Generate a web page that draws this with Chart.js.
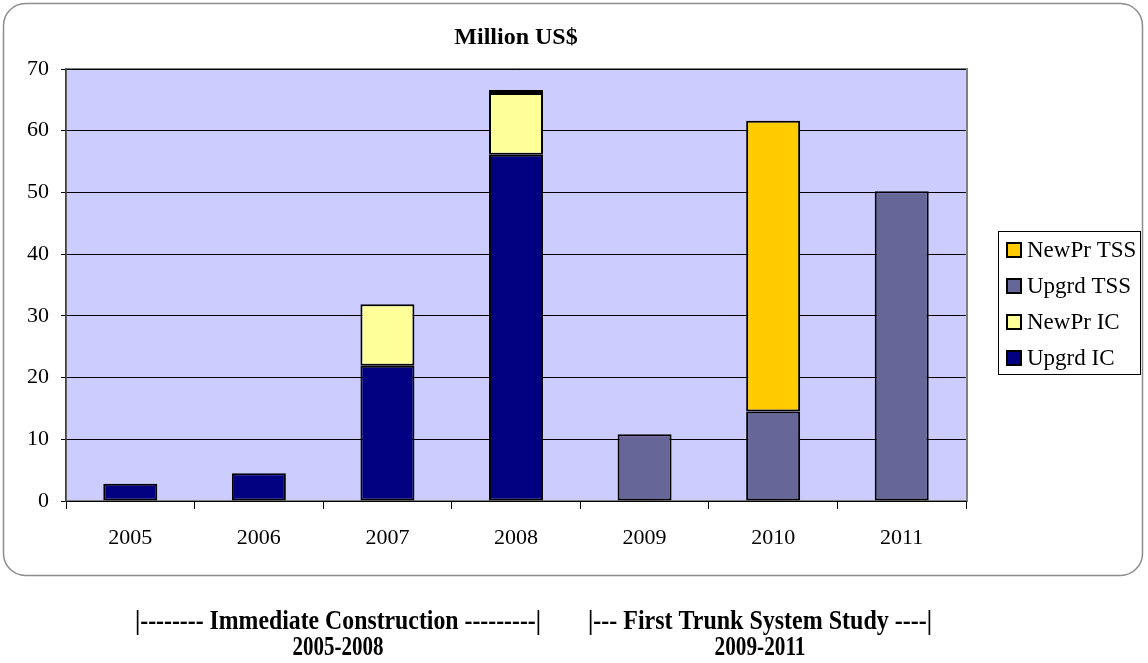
<!DOCTYPE html>
<html>
<head>
<meta charset="utf-8">
<script src="https://cdn.jsdelivr.net/npm/chart.js@4/dist/chart.umd.min.js"></script>
<style>
    html, body { margin: 0; padding: 0; background: #fff; }
    #wrap { width: 1148px; height: 663px; }
</style>
</head>
<body>
<div id="wrap"><canvas id="costChart" width="1148" height="663"></canvas></div>
<script>
const years = ['2005', '2006', '2007', '2008', '2009', '2010', '2011']
const upgrdIC = [2.8, 4.5, 21.9, 56.1, null, null, null]
const newPrIC = [null, null, 10.0, 10.0, null, null, null]
const upgrdTSS = [null, null, null, 0.5, 10.8, 14.5, 50.2]
const newPrTSS = [null, null, null, null, null, 47.1, null]
const yTicks = [0, 10, 20, 30, 40, 50, 60, 70]

const chartTitle = 'Million US$'
const periodLabels = [
    { line1: '|-------- Immediate Construction ---------|', line2: '2005-2008', x: 338, w: 406 },
    { line1: '|--- First Trunk System Study ----|', line2: '2009-2011', x: 760, w: 344 }
]

const serif = '"Liberation Serif", "Times New Roman", serif'

// background, rounded frame, plot area
const framePlugin = {
    id: 'framePlugin',
    beforeDraw(chart) {
        const ctx = chart.ctx
        const a = chart.chartArea
        ctx.save()
        ctx.fillStyle = '#fff'
        ctx.fillRect(0, 0, chart.width, chart.height)
        ctx.strokeStyle = '#8c8c8c'
        ctx.lineWidth = 1.5
        ctx.beginPath()
        ctx.roundRect(3.5, 3.5, 1139, 572, 22)
        ctx.stroke()
        ctx.fillStyle = '#CCCCFF'
        ctx.fillRect(a.left, a.top, a.right - a.left, a.bottom - a.top)
        ctx.strokeStyle = '#808080'
        ctx.lineWidth = 2
        ctx.strokeRect(a.left, a.top, a.right - a.left + 1, a.bottom - a.top)
        ctx.restore()
    },
    afterDraw(chart) {
        const ctx = chart.ctx
        const a = chart.chartArea
        ctx.save()
        ctx.fillStyle = '#000'
        ctx.textAlign = 'center'
        ctx.textBaseline = 'middle'

        // title
        ctx.font = 'bold 24px ' + serif
        ctx.fillText(chartTitle, (a.left + a.right) / 2, 38, 136)

        // period notes under the chart
        ctx.font = 'bold 27px ' + serif
        periodLabels.forEach(p => {
            ctx.fillText(p.line1, p.x, 622, p.w)
            ctx.fillText(p.line2, p.x, 648, 91)
        })

        // legend box
        const lx = 998, ly = 231, lw = 142, lh = 143
        ctx.strokeStyle = '#000'
        ctx.lineWidth = 1
        ctx.strokeRect(lx + 0.5, ly + 0.5, lw, lh)
        ctx.textAlign = 'left'
        ctx.font = '23px ' + serif
        const items = chart.data.datasets.slice().reverse()
        items.forEach((ds, i) => {
            const cy = 250 + i * 36
            ctx.fillStyle = ds.backgroundColor
            ctx.fillRect(1007, cy - 7, 14, 14)
            ctx.lineWidth = 2
            ctx.strokeRect(1007, cy - 7, 14, 14)
            ctx.fillStyle = '#000'
            ctx.fillText(ds.label, 1027, cy + 1, 111)
        })
        ctx.restore()
    }
}

const barStyle = {
    borderColor: '#000',
    borderWidth: 2,
    borderSkipped: false,
    barPercentage: 0.42,
    categoryPercentage: 1.0
}

const costChart = new Chart('costChart', {
    type: 'bar',
    data: {
        labels: years,
        datasets: [
            { label: 'Upgrd IC', data: upgrdIC, backgroundColor: '#000080', ...barStyle },
            { label: 'NewPr IC', data: newPrIC, backgroundColor: '#FFFF99', ...barStyle },
            { label: 'Upgrd TSS', data: upgrdTSS, backgroundColor: '#666699', ...barStyle },
            { label: 'NewPr TSS', data: newPrTSS, backgroundColor: '#FFCC00', ...barStyle }
        ]
    },
    options: {
        responsive: false,
        animation: false,
        layout: { padding: { left: 0, right: 182, top: 69, bottom: 112 } },
        plugins: {
            legend: { display: false },
            title: { display: false },
            tooltip: { enabled: false }
        },
        scales: {
            x: {
                stacked: true,
                grid: { offset: true, drawOnChartArea: false, color: '#000', tickLength: 8 },
                border: { color: '#000', width: 1 },
                ticks: { color: '#000', font: { family: serif, size: 22 }, padding: 16 },
                afterFit: scale => { scale.height = 50 }
            },
            y: {
                stacked: true,
                min: 0,
                max: 70,
                afterBuildTicks: scale => { scale.ticks = yTicks.map(v => ({ value: v })) },
                grid: { color: '#000', lineWidth: 1, tickLength: 5 },
                border: { color: '#404040', width: 1.5 },
                ticks: { color: '#000', font: { family: serif, size: 22 }, padding: 12 },
                afterFit: scale => { scale.width = 66 }
            }
        }
    },
    plugins: [framePlugin]
})
</script>
</body>
</html>
